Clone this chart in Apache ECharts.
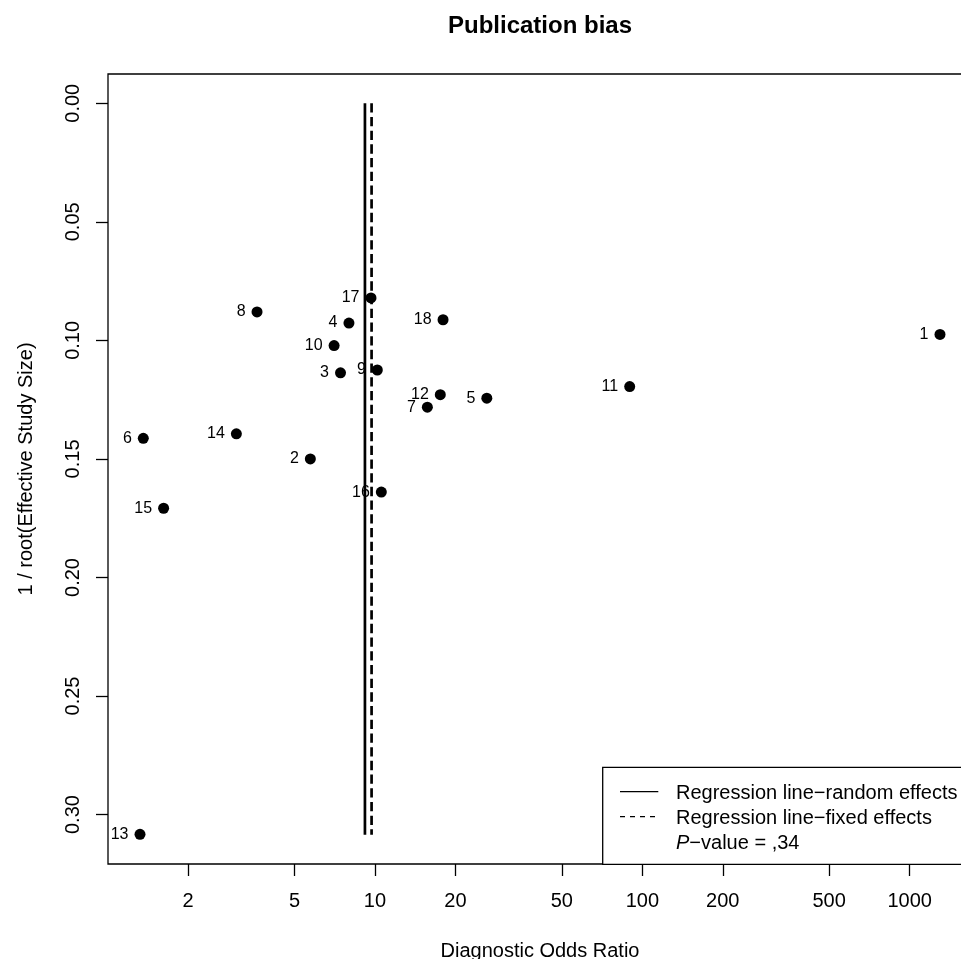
<!DOCTYPE html>
<html><head><meta charset="utf-8">
<script src="https://cdn.jsdelivr.net/npm/echarts@6/dist/echarts.min.js"></script>
<style>html,body{margin:0;padding:0;overflow:hidden;background:#fff;width:961px;height:959px}#c{width:1000px;height:959px}</style>
</head><body><div id="c"></div>
<script>
// ---- data ----
const studyIds = [1,2,3,4,5,6,7,8,9,10,11,12,13,14,15,16,17,18];
const diagnosticOddsRatio = [1299, 5.73, 7.43, 7.99, 26.2, 1.359, 15.7, 3.62, 10.2, 7.03, 89.7, 17.55, 1.321, 3.03, 1.619, 10.56, 9.66, 17.97];
const invRootESS = [0.0975, 0.1500, 0.1137, 0.0927, 0.1244, 0.1413, 0.1282, 0.0880, 0.1125, 0.1022, 0.1195, 0.1229, 0.3083, 0.1394, 0.1708, 0.1640, 0.0821, 0.0913];
const randomEffectsDOR = 9.17;
const fixedEffectsDOR = 9.71;
const regressionLineY = [0, 0.3085];
const xTickValues = [2, 5, 10, 20, 50, 100, 200, 500, 1000];
const yTickValues = [0, 0.05, 0.10, 0.15, 0.20, 0.25, 0.30];
const legendLabels = ['Regression line\u2212random effects', 'Regression line\u2212fixed effects'];
const pValueText = ',34';
const titleText = 'Publication bias';
const xAxisTitle = 'Diagnostic Odds Ratio';
const yAxisTitle = '1 / root(Effective Study Size)';

// ---- axis ranges (R style 4% extension) ----
const lx = diagnosticOddsRatio.map(v => Math.log10(v));
const xLo = Math.min(...lx), xHi = Math.max(...lx);
const xPad = 0.04 * (xHi - xLo);
const yLo = Math.min(regressionLineY[0], ...invRootESS), yHi = Math.max(regressionLineY[1], ...invRootESS);
const yPad = 0.04 * (yHi - yLo);

const FONT = '"Liberation Sans", Arial, Helvetica, sans-serif';
const chart = echarts.init(document.getElementById('c'), null, {renderer: 'canvas'});

const pts = diagnosticOddsRatio.map((v, i) => ({value: [Math.log10(v), invRootESS[i]], name: String(studyIds[i])}));

chart.setOption({
  animation: false,
  backgroundColor: '#fff',
  title: {
    text: titleText, left: 540, top: 14, textAlign: 'center', padding: 0,
    textStyle: {fontFamily: FONT, fontWeight: 'bold', fontSize: 24, color: '#000'}
  },
  grid: {left: 108, top: 74, width: 864, height: 790, outerBoundsMode: 'none', containLabel: false,
         show: true, borderColor: '#000', borderWidth: 1.3, backgroundColor: 'transparent'},
  xAxis: {
    type: 'value', min: xLo - xPad, max: xHi + xPad,
    axisLine: {show: false, onZero: false},
    splitLine: {show: false},
    axisTick: {show: true, inside: false, length: 12, lineStyle: {color: '#000', width: 1.3}, customValues: xTickValues.map(v => Math.log10(v))},
    axisLabel: {
      customValues: xTickValues.map(v => Math.log10(v)),
      formatter: v => String(Math.round(Math.pow(10, v))),
      fontFamily: FONT, fontSize: 20, color: '#000', margin: 27
    },
    name: xAxisTitle, nameLocation: 'middle', nameGap: 77,
    nameTextStyle: {fontFamily: FONT, fontSize: 20, color: '#000'}
  },
  yAxis: {
    type: 'value', inverse: true, min: yLo - yPad, max: yHi + yPad,
    axisLine: {show: false, onZero: false},
    splitLine: {show: false},
    axisTick: {show: true, inside: false, length: 12, lineStyle: {color: '#000', width: 1.3}, customValues: yTickValues},
    axisLabel: {
      customValues: yTickValues, rotate: 90,
      formatter: v => v.toFixed(2),
      fontFamily: FONT, fontSize: 20, color: '#000', margin: 25
    },
    name: yAxisTitle, nameLocation: 'middle', nameGap: 72, nameRotate: 90,
    nameTextStyle: {fontFamily: FONT, fontSize: 20, color: '#000'}
  },
  series: [
    {
      type: 'line', name: legendLabels[0], symbol: 'none', z: 2,
      data: [[Math.log10(randomEffectsDOR), regressionLineY[0]], [Math.log10(randomEffectsDOR), regressionLineY[1]]],
      lineStyle: {color: '#000', width: 2.7, type: 'solid'}
    },
    {
      type: 'line', name: legendLabels[1], symbol: 'none', z: 2,
      data: [[Math.log10(fixedEffectsDOR), regressionLineY[0]], [Math.log10(fixedEffectsDOR), regressionLineY[1]]],
      lineStyle: {color: '#000', width: 2.7, type: [9.3, 4.4]}
    },
    {
      type: 'scatter', symbol: 'circle', symbolSize: 11, z: 3,
      itemStyle: {color: '#000', opacity: 1},
      data: pts,
      label: {show: true, position: 'left', distance: 6, formatter: p => p.name, fontFamily: FONT, fontSize: 16, color: '#000'}
    }
  ],
  graphic: [
    {type: 'rect', z: 50, shape: {x: 602.7, y: 767.3, width: 420, height: 97}, style: {fill: '#fff', stroke: '#000', lineWidth: 1.3}},
    {type: 'line', z: 51, shape: {x1: 620, y1: 791.7, x2: 658.3, y2: 791.7}, style: {stroke: '#000', lineWidth: 1.3}},
    {type: 'line', z: 51, shape: {x1: 620, y1: 816.7, x2: 658.3, y2: 816.7}, style: {stroke: '#000', lineWidth: 1.3, lineDash: [5, 5]}},
    {type: 'text', z: 51, x: 676, y: 793, style: {text: legendLabels[0], fontFamily: FONT, fontSize: 20, fill: '#000', verticalAlign: 'middle', align: 'left'}},
    {type: 'text', z: 51, x: 676, y: 818, style: {text: legendLabels[1], fontFamily: FONT, fontSize: 20, fill: '#000', verticalAlign: 'middle', align: 'left'}},
    {type: 'text', z: 51, x: 676, y: 843, style: {
      text: '{i|P}{n|\u2212value = ' + pValueText + '}', fontFamily: FONT, fontSize: 20, fill: '#000', verticalAlign: 'middle', align: 'left',
      rich: {i: {fontStyle: 'italic', fontFamily: FONT, fontSize: 20, fill: '#000'}, n: {fontFamily: FONT, fontSize: 20, fill: '#000'}}
    }}
  ]
});
</script>
</body></html>
